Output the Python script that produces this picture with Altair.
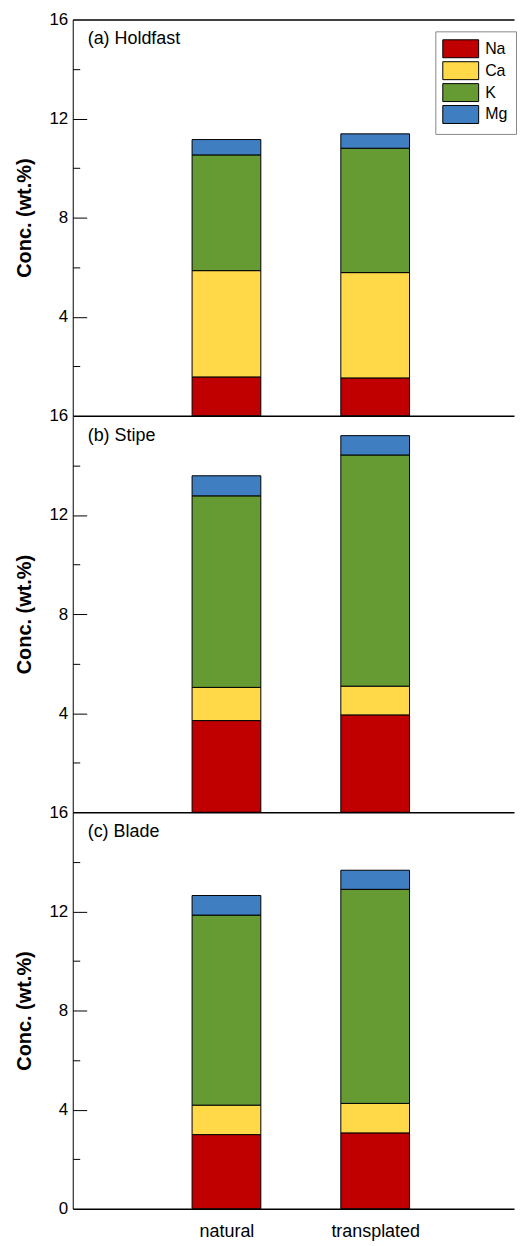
import altair as alt
import pandas as pd

categories = ["natural", "transplated"]
elements = ["Na", "Ca", "K", "Mg"]
colors = ["#C00000", "#FFD947", "#669A33", "#3F7EC0"]
panel_labels = ["(a) Holdfast", "(b) Stipe", "(c) Blade"]

holdfast_natural = [1.57, 4.29, 4.67, 0.62]
holdfast_transplated = [1.53, 4.25, 5.02, 0.58]
stipe_natural = [3.70, 1.34, 7.73, 0.81]
stipe_transplated = [3.93, 1.16, 9.33, 0.78]
blade_natural = [2.99, 1.19, 7.67, 0.79]
blade_transplated = [3.06, 1.19, 8.64, 0.77]

panel_values = [
    (holdfast_natural, holdfast_transplated),
    (stipe_natural, stipe_transplated),
    (blade_natural, blade_transplated),
]

FONT = "Liberation Sans"
W, H = 443, 398


def make_df(nat, tra):
    rows = []
    for ci, vals in enumerate([nat, tra]):
        for ei, v in enumerate(vals):
            rows.append({"pos": ci + 1, "cat": categories[ci], "element": elements[ei],
                         "order": ei, "value": v})
    return pd.DataFrame(rows)


label_expr = "datum.value == 1 ? '%s' : (datum.value == 2 ? '%s' : '')" % (categories[0], categories[1])

xscale = alt.Scale(domain=[0, 2.9], nice=False, zero=False)
yscale = alt.Scale(domain=[0, 16], nice=False)

top_axis = alt.Axis(orient="top", labels=False, ticks=False, grid=False, title=None,
                    domain=True, domainColor="black", domainWidth=1.5)
bottom_axis = alt.Axis(orient="bottom", values=[1, 2], labelExpr=label_expr, ticks=False,
                       grid=False, title=None, domain=True, domainColor="black", domainWidth=1.5,
                       labelFontSize=18, labelColor="black", labelFont=FONT, labelPadding=14)

legend = alt.Legend(orient="none", legendX=364, legendY=12, title=None,
                    symbolType="M-2,-1H2V1H-2Z", symbolSize=324,
                    symbolStrokeColor="black", symbolStrokeWidth=1, symbolOpacity=1,
                    labelFontSize=16, labelFont=FONT, labelColor="black",
                    labelOffset=15, symbolOffset=8, rowPadding=-1, padding=8,
                    fillColor="white", strokeColor="#888888")


def panel(i):
    nat, tra = panel_values[i]
    df = make_df(nat, tra)
    last = i == 2
    base = alt.Chart(df)
    yvals = [0, 4, 8, 12, 16] if last else [4, 8, 12, 16]
    bars = base.mark_bar(size=69, stroke="black", strokeWidth=1).encode(
        x=alt.X("pos:Q", scale=xscale, axis=bottom_axis if last else top_axis),
        y=alt.Y("value:Q", stack="zero", scale=yscale,
                axis=alt.Axis(orient="left", values=yvals, ticks=False, grid=False,
                              domain=True, domainColor="black", domainWidth=1,
                              labelFontSize=17, labelFont=FONT, labelColor="black",
                              labelPadding=5, title="Conc. (wt.%)", titleFont=FONT,
                              titleFontSize=20, titleFontWeight="bold", titleColor="black",
                              titlePadding=14)),
        color=alt.Color("element:N", scale=alt.Scale(domain=elements, range=colors),
                        sort=elements, legend=legend),
        order=alt.Order("order:Q"),
    )
    ticks = base.mark_bar(size=69, opacity=0).encode(
        x=alt.X("pos:Q", scale=xscale, axis=top_axis),
        y=alt.Y("value:Q", stack="zero", scale=yscale,
                axis=alt.Axis(orient="right", offset=-W, values=[2, 4, 6, 8, 10, 12, 14],
                              labels=False, domain=False, grid=False, title=None,
                              tickColor="black", tickWidth=1,
                              tickSize={"condition": {"test": "datum.value % 4 === 0", "value": 14},
                                        "value": 7})),
        order=alt.Order("order:Q"),
    )
    text = alt.Chart(pd.DataFrame({"label": [panel_labels[i]]})).mark_text(
        align="left", baseline="alphabetic", font=FONT, fontSize=18, color="black"
    ).encode(x=alt.value(15), y=alt.value(25), text="label:N")
    layer = alt.layer(bars, ticks, text)
    if last:
        layer = layer.resolve_axis(x="independent", y="independent")
    else:
        layer = layer.resolve_axis(y="independent")
    return layer.properties(width=W, height=H)


chart = alt.vconcat(panel(0), panel(1), panel(2), spacing=0, bounds="flush").configure_view(
    stroke=None
).properties(padding={"left": 7, "top": 0, "right": 0, "bottom": 0})

chart.save("out.html", embed_options={"renderer": "svg", "actions": False})
